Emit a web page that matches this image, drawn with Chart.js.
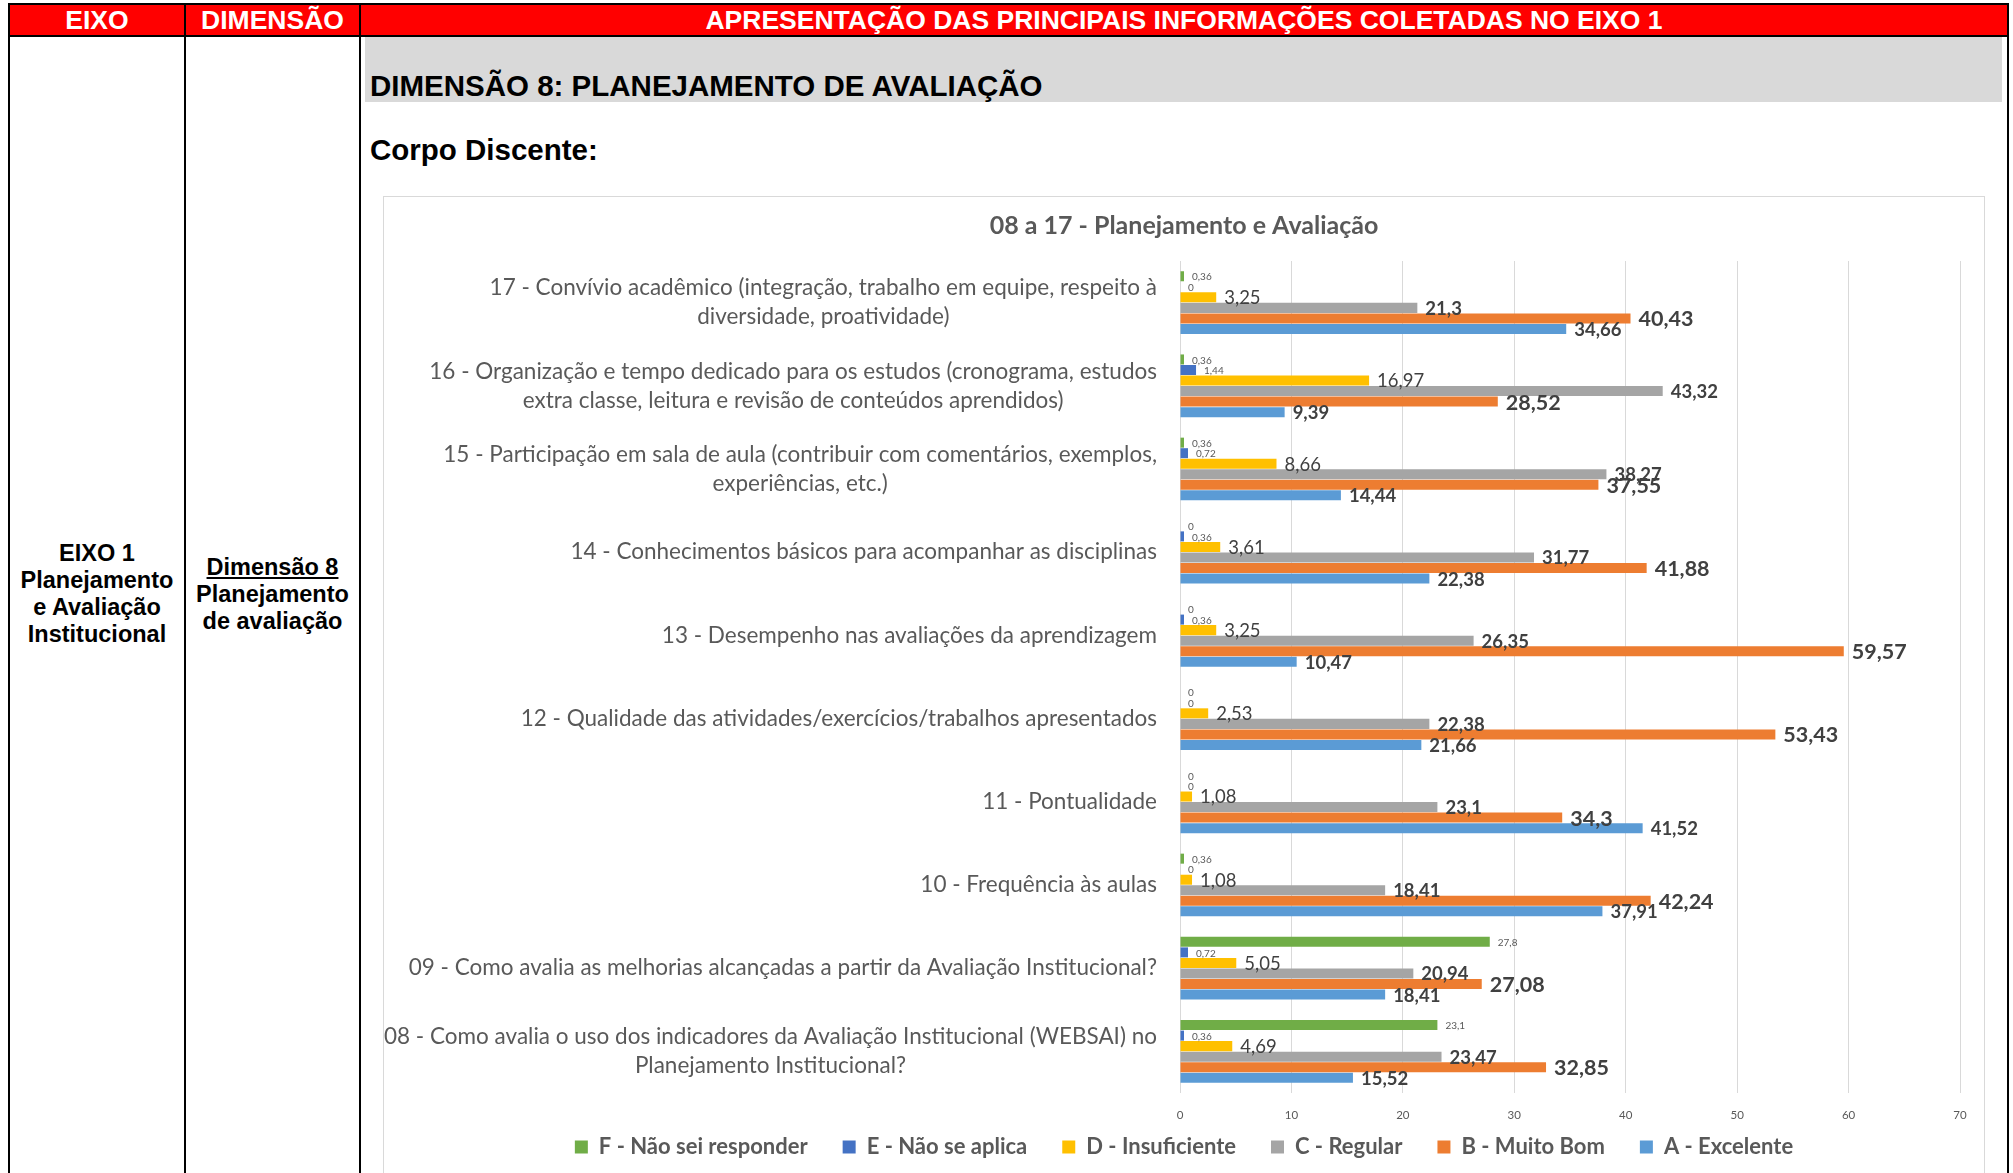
<!DOCTYPE html>
<html>
<head>
<meta charset="utf-8">
<script src="https://cdn.jsdelivr.net/npm/chart.js@4.4.1/dist/chart.umd.min.js"></script>
<style>
html,body{margin:0;padding:0;width:2013px;height:1173px;overflow:hidden;background:#fff;font-family:"Liberation Sans",Arial,sans-serif;}
.a{position:absolute;}
.blk{position:absolute;background:#000;}
.hdr{position:absolute;top:5px;height:30px;line-height:30px;color:#fff;font-weight:bold;font-size:26.5px;text-align:center;white-space:nowrap;}
.side{position:absolute;font-weight:bold;font-size:23.5px;line-height:27px;text-align:center;color:#000;}
#box{position:absolute;left:383px;top:196px;width:1602px;height:1000px;border:1px solid #d9d9d9;box-sizing:border-box;background:#fff;}
#c{position:absolute;left:0;top:0;}
</style>
</head>
<body>
<!-- header fill -->
<div class="a" style="left:10px;top:5px;width:1997px;height:30px;background:#ff0000;"></div>
<!-- gray band -->
<div class="a" style="left:365px;top:37px;width:1637px;height:65px;background:#d9d9d9;"></div>
<!-- borders -->
<div class="blk" style="left:8px;top:3px;width:2001px;height:2px;"></div>
<div class="blk" style="left:8px;top:35px;width:2001px;height:2px;"></div>
<div class="blk" style="left:8px;top:3px;width:2px;height:1170px;"></div>
<div class="blk" style="left:184px;top:3px;width:2px;height:1170px;"></div>
<div class="blk" style="left:359px;top:3px;width:2px;height:1170px;"></div>
<div class="blk" style="left:2007px;top:3px;width:2px;height:1170px;"></div>

<div class="hdr" style="left:10px;width:174px;">EIXO</div>
<div class="hdr" style="left:186px;width:173px;">DIMENSÃO</div>
<div class="hdr" style="left:361px;width:1646px;">APRESENTAÇÃO DAS PRINCIPAIS INFORMAÇÕES COLETADAS NO EIXO 1</div>

<div class="a" style="left:370px;top:70px;font-weight:bold;font-size:29.5px;line-height:32px;white-space:nowrap;">DIMENSÃO 8: PLANEJAMENTO DE AVALIAÇÃO</div>
<div class="a" style="left:370px;top:134px;font-weight:bold;font-size:29.5px;line-height:32px;white-space:nowrap;">Corpo Discente:</div>

<div class="side" style="left:10px;top:540px;width:174px;">EIXO 1<br>Planejamento<br>e Avaliação<br>Institucional</div>
<div class="side" style="left:186px;top:554px;width:173px;"><u>Dimensão 8</u><br>Planejamento<br>de avaliação</div>

<div id="box"><canvas id="c" width="1600" height="985"></canvas></div>

<script>
// ---------- data ----------
const categories = [
  ['17 - Convívio acadêmico (integração, trabalho em equipe, respeito à', 'diversidade, proatividade)'],
  ['16 - Organização e tempo dedicado para os estudos (cronograma, estudos', 'extra classe, leitura e revisão de conteúdos aprendidos)'],
  ['15 - Participação em sala de aula (contribuir com comentários, exemplos,', 'experiências, etc.)'],
  '14 - Conhecimentos básicos para acompanhar as disciplinas',
  '13 - Desempenho nas avaliações da aprendizagem',
  '12 - Qualidade das atividades/exercícios/trabalhos apresentados',
  '11 - Pontualidade',
  '10 - Frequência às aulas',
  '09 - Como avalia as melhorias alcançadas a partir da Avaliação Institucional?',
  ['08 - Como avalia o uso dos indicadores da Avaliação Institucional (WEBSAI) no', 'Planejamento Institucional?']
];
const seriesNames = ['F - Não sei responder', 'E - Não se aplica', 'D - Insuficiente', 'C - Regular', 'B - Muito Bom', 'A - Excelente'];
const valuesF = [0.36, 0.36, 0.36, 0, 0, 0, 0, 0.36, 27.8, 23.1];
const valuesE = [0, 1.44, 0.72, 0.36, 0.36, 0, 0, 0, 0.72, 0.36];
const valuesD = [3.25, 16.97, 8.66, 3.61, 3.25, 2.53, 1.08, 1.08, 5.05, 4.69];
const valuesC = [21.3, 43.32, 38.27, 31.77, 26.35, 22.38, 23.1, 18.41, 20.94, 23.47];
const valuesB = [40.43, 28.52, 37.55, 41.88, 59.57, 53.43, 34.3, 42.24, 27.08, 32.85];
const valuesA = [34.66, 9.39, 14.44, 22.38, 10.47, 21.66, 41.52, 37.91, 18.41, 15.52];
const xTicks = [0, 10, 20, 30, 40, 50, 60, 70];
const chartTitle = '08 a 17 - Planejamento e Avaliação';

// ---------- styles ----------
const seriesColors = ['#70AD47', '#4472C4', '#FFC000', '#A5A5A5', '#ED7D31', '#5B9BD5'];
const labelStyles = [
  {size: 10, weight: 'normal', color: '#595959'},
  {size: 10, weight: 'normal', color: '#595959'},
  {size: 18.5, weight: 'normal', color: '#404040'},
  {size: 18.5, weight: 'bold', color: '#404040'},
  {size: 21.5, weight: 'bold', color: '#404040'},
  {size: 18.5, weight: 'bold', color: '#404040'}
];
const FONT = 'Lato';

const valueLabels = {
  id: 'valueLabels',
  afterDatasetsDraw(chart) {
    const ctx = chart.ctx;
    chart.data.datasets.forEach((ds, di) => {
      const meta = chart.getDatasetMeta(di);
      const st = labelStyles[di];
      ctx.save();
      ctx.font = st.weight + ' ' + st.size + 'px ' + FONT;
      ctx.fillStyle = st.color;
      ctx.textBaseline = 'middle';
      ctx.textAlign = 'left';
      meta.data.forEach((bar, i) => {
        ctx.fillText(String(ds.data[i]).replace('.', ','), bar.x + 8, bar.y + 1);
      });
      ctx.restore();
    });
  }
};

const categoryLabels = {
  id: 'categoryLabels',
  afterDraw(chart) {
    const s = chart.scales.y;
    const ctx = chart.ctx;
    ctx.save();
    ctx.font = '22.5px ' + FONT;
    ctx.fillStyle = '#595959';
    ctx.textAlign = 'center';
    ctx.textBaseline = 'middle';
    const lh = 29;
    chart.data.labels.forEach((lab, i) => {
      const lines = Array.isArray(lab) ? lab : [lab];
      const w = Math.max(...lines.map(l => ctx.measureText(l).width));
      const cx = s.right - 23 - w / 2;
      const cy = s.getPixelForValue(i);
      lines.forEach((l, k) => ctx.fillText(l, cx, cy + (k - (lines.length - 1) / 2) * lh));
    });
    ctx.restore();
  }
};

// x-axis is squeezed so the legend sits close under the plot; widen its label clip area afterwards
const xLabelRoom = {
  id: 'xLabelRoom',
  afterLayout(chart) {
    const s = chart.scales.x;
    s.bottom = s.top + 40;
  }
};

function draw() {
  const seriesValues = [valuesF, valuesE, valuesD, valuesC, valuesB, valuesA];
  new Chart(document.getElementById('c'), {
    type: 'bar',
    data: {
      labels: categories,
      datasets: seriesNames.map((n, i) => ({
        label: n,
        data: seriesValues[i],
        backgroundColor: seriesColors[i],
        borderWidth: 0,
        barPercentage: 0.95,
        categoryPercentage: 0.76
      }))
    },
    options: {
      indexAxis: 'y',
      responsive: false,
      animation: false,
      devicePixelRatio: 1,
      layout: {padding: {left: 24, right: 24, top: 0, bottom: 14}},
      scales: {
        x: {
          min: xTicks[0], max: xTicks[xTicks.length - 1],
          ticks: {stepSize: xTicks[1] - xTicks[0], padding: 15, color: '#595959', font: {family: FONT, size: 11.5}},
          grid: {color: '#d9d9d9', drawTicks: false},
          border: {display: false},
          afterFit(s) { s.height = 8; }
        },
        y: {
          ticks: {display: false},
          grid: {display: false},
          border: {display: false},
          afterFit(s) { s.width = 772; }
        }
      },
      plugins: {
        title: {
          display: true, text: chartTitle, color: '#595959',
          font: {family: FONT, size: 25, weight: 'bold'},
          padding: {top: 14, bottom: 20}
        },
        legend: {
          position: 'bottom',
          labels: {boxWidth: 13, boxHeight: 13, padding: 35, color: '#595959', font: {family: FONT, size: 22, weight: 'bold'}}
        },
        tooltip: {enabled: false}
      }
    },
    plugins: [valueLabels, categoryLabels, xLabelRoom]
  });
}

Promise.all([
  document.fonts.load('18px Lato'),
  document.fonts.load('bold 18px Lato')
]).then(draw, draw);
</script>
</body>
</html>
